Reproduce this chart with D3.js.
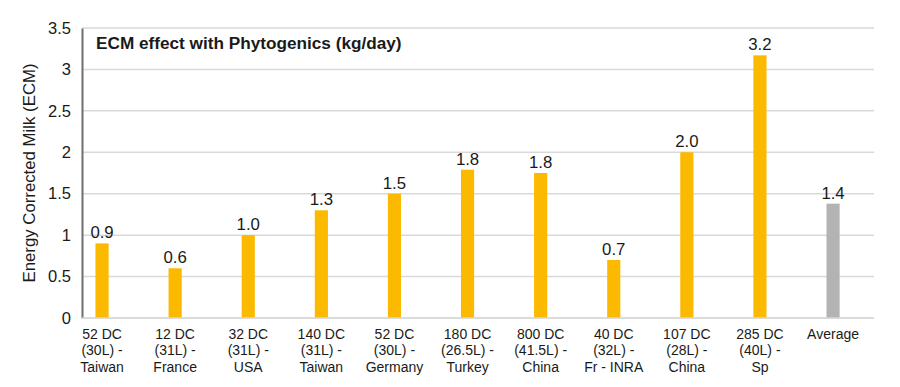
<!DOCTYPE html>
<html>

<head>
  <meta charset="utf8">
  <script src="https://d3js.org/d3.v7.min.js"></script>
  <style>
    body {
      margin: 0;
      background: #fff;
    }

    svg text {
      font-family: "Liberation Sans", Arial, Helvetica, sans-serif;
      fill: #1a1a1a;
    }

    .grid line {
      stroke: #d9d9d9;
      stroke-width: 1.5;
    }
  </style>
</head>

<body>
  <svg id="chart" width="900" height="387"></svg>

  <script>
    var categories = [
      ['52 DC', '(30L) -', 'Taiwan'],
      ['12 DC', '(31L) -', 'France'],
      ['32 DC', '(31L) -', 'USA'],
      ['140 DC', '(31L) -', 'Taiwan'],
      ['52 DC', '(30L) -', 'Germany'],
      ['180 DC', '(26.5L) -', 'Turkey'],
      ['800 DC', '(41.5L) -', 'China'],
      ['40 DC', '(32L) -', 'Fr - INRA'],
      ['107 DC', '(28L) -', 'China'],
      ['285 DC', '(40L) -', 'Sp'],
      ['Average']
    ];
    var values = [0.9, 0.6, 1.0, 1.3, 1.5, 1.79, 1.75, 0.7, 2.0, 3.17, 1.38];
    var yTicks = [0, 0.5, 1, 1.5, 2, 2.5, 3, 3.5];

    var chart = d3.select('#chart');
    var plotLeft = 82, plotRight = 874, plotTop = 28, plotBottom = 318;

    var x = d3.scaleBand()
      .domain(d3.range(categories.length))
      .range([65.5, 869.6])
      .paddingInner(0.82)
      .paddingOuter(0.41);

    var y = d3.scaleLinear()
      .domain([0, 3.5])
      .range([plotBottom, plotTop]);

    // gridlines
    chart.append('g')
      .attr('class', 'grid')
      .selectAll('line')
      .data(yTicks)
      .enter().append('line')
      .attr('x1', plotLeft)
      .attr('x2', plotRight)
      .attr('y1', (d) => y(d))
      .attr('y2', (d) => y(d));

    // y axis ticks
    var yAxis = chart.append('g')
      .attr('transform', 'translate(' + plotLeft + ',0)')
      .call(d3.axisLeft(y).tickValues(yTicks).tickSize(0).tickPadding(11).tickFormat((d) => String(d)));
    yAxis.select('.domain')
      .attr('stroke', '#6f6f6f')
      .attr('stroke-width', 2);
    yAxis.selectAll('text')
      .style('font-size', '16.5px')
      .attr('fill', '#1a1a1a');

    chart.append('text')
      .attr('transform', 'translate(35,' + (plotTop + plotBottom) / 2 + ') rotate(-90)')
      .attr('text-anchor', 'middle')
      .style('font-size', '16.8px')
      .text('Energy Corrected Milk (ECM)');

    chart.append('text')
      .attr('x', 96)
      .attr('y', 49)
      .style('font-size', '17.2px')
      .style('font-weight', 'bold')
      .text('ECM effect with Phytogenics (kg/day)');

    // bars
    chart.append('g')
      .selectAll('rect')
      .data(values)
      .enter().append('rect')
      .attr('x', (d, i) => x(i))
      .attr('width', x.bandwidth())
      .attr('y', (d) => y(d))
      .attr('height', (d) => plotBottom - y(d))
      .attr('fill', (d, i) => i === values.length - 1 ? '#b3b3b3' : '#fbba00');

    // value labels
    chart.append('g')
      .selectAll('text')
      .data(values)
      .enter().append('text')
      .attr('x', (d, i) => x(i) + x.bandwidth() / 2)
      .attr('y', (d) => y(d) - 5)
      .attr('text-anchor', 'middle')
      .style('font-size', '16.8px')
      .text((d) => d3.format('.1f')(d));

    // category labels
    var cat = chart.append('g')
      .selectAll('text')
      .data(categories)
      .enter().append('text')
      .attr('x', (d, i) => x(i) + x.bandwidth() / 2)
      .attr('y', 339)
      .attr('text-anchor', 'middle')
      .style('font-size', '14px');
    cat.selectAll('tspan')
      .data((d) => d)
      .enter().append('tspan')
      .attr('x', function () { return d3.select(this.parentNode).attr('x'); })
      .attr('dy', (d, i) => i === 0 ? 0 : 16.4)
      .text((d) => d);

    // bottom baseline
    chart.append('line')
      .attr('x1', plotLeft)
      .attr('x2', plotRight)
      .attr('y1', plotBottom)
      .attr('y2', plotBottom)
      .attr('stroke', '#d9d9d9')
      .attr('stroke-width', 1.5);
  </script>
</body>

</html>
